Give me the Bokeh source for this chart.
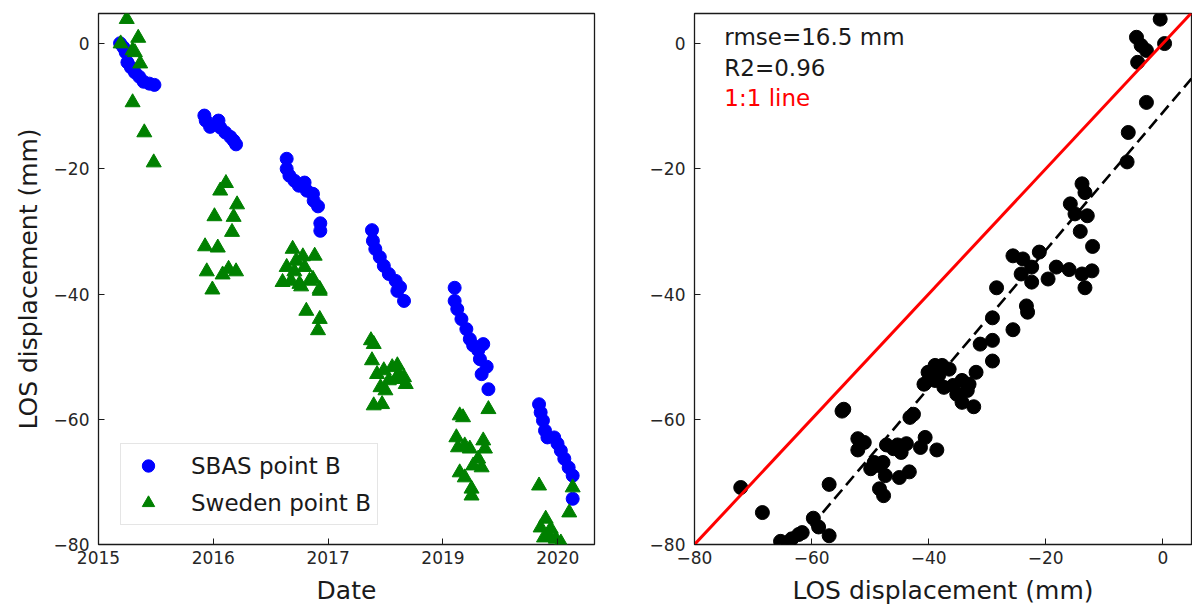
from bokeh.plotting import figure
from bokeh.layouts import row
from bokeh.models import FixedTicker, ColumnDataSource, Range1d
from bokeh.core.properties import value
from bokeh.embed import file_html
from bokeh.resources import INLINE

# ---------------- data ----------------
# Left panel: time position (years from first tick) and LOS displacement (mm)
sbas_t = [0.188, 0.217, 0.237, 0.252, 0.282, 0.317, 0.355, 0.393, 0.443, 0.487,
          0.922, 0.934, 0.972, 1.045, 1.060, 1.104, 1.148, 1.177, 1.198,
          1.639, 1.639, 1.663, 1.706, 1.745, 1.795, 1.815, 1.868, 1.874, 1.912, 1.932, 1.932,
          2.382, 2.390, 2.411, 2.450, 2.485, 2.529, 2.588, 2.603, 2.626, 2.661,
          3.102, 3.102, 3.125, 3.161, 3.204, 3.234, 3.263, 3.307, 3.351, 3.322, 3.381, 3.337, 3.396,
          3.837, 3.851, 3.871, 3.889, 3.910, 3.969, 3.998, 4.027, 4.057, 4.095, 4.130, 4.130]
sbas_y = [0.05, -0.6, -1.4, -3.0, -3.8, -4.6, -5.3, -6.1, -6.4, -6.6,
          -11.5, -12.3, -13.3, -12.3, -13.4, -14.2, -14.9, -15.5, -16.1,
          -18.4, -20.0, -21.1, -21.9, -22.7, -22.2, -23.5, -24.0, -25.1, -26.0, -28.7, -29.9,
          -29.8, -31.5, -32.8, -34.1, -35.5, -36.8, -37.9, -39.5, -38.9, -41.1,
          -39.0, -41.1, -42.4, -44.0, -45.6, -47.2, -48.2, -49.0, -48.0, -50.4, -51.6, -52.8, -55.2,
          -57.6, -58.9, -60.2, -61.8, -62.9, -62.9, -63.9, -65.0, -66.3, -67.7, -69.0, -72.7]

swe_t = [0.246, 0.193, 0.346, 0.297, 0.317, 0.363, 0.297, 0.399, 0.481,
         1.110, 1.060, 1.207, 1.177, 1.010, 1.163, 0.928, 1.039, 0.943, 1.081, 1.133, 1.198, 0.992,
         1.691, 1.780, 1.883, 1.639, 1.706, 1.795, 1.868, 1.677, 1.765, 1.927, 1.721, 1.838,
         1.810, 1.927, 1.912, 1.750, 1.927, 1.603,
         2.373, 2.397, 2.382, 2.426, 2.485, 2.558, 2.603, 2.661, 2.676, 2.529, 2.456, 2.499,
         2.397, 2.470, 2.588, 2.617,
         3.146, 3.175, 3.396, 3.117, 3.131, 3.190, 3.234, 3.351, 3.366, 3.307, 3.263, 3.337,
         3.146, 3.190, 3.249, 3.249,
         3.837, 3.895, 3.851, 3.939, 3.880, 3.983, 4.027, 4.130, 4.100, 3.924]
swe_y = [3.9, 0.0, 0.9, -1.1, -1.4, -3.2, -9.4, -14.2, -19.0,
         -22.3, -23.5, -25.7, -27.7, -27.6, -30.1, -32.4, -32.6, -36.4, -36.9, -36.0, -36.4, -39.3,
         -32.8, -34.0, -33.9, -35.7, -36.4, -35.7, -37.6, -37.9, -38.8, -39.5, -34.7, -37.9,
         -42.7, -44.0, -45.8, -38.4, -39.2, -38.1,
         -47.4, -48.0, -50.6, -52.8, -52.2, -51.7, -51.4, -53.3, -54.4, -53.8, -54.9, -55.4,
         -57.8, -57.6, -53.6, -52.8,
         -59.4, -59.7, -58.4, -62.9, -64.5, -64.2, -64.7, -63.4, -64.7, -66.3, -67.4, -67.7,
         -68.5, -69.3, -71.1, -72.2,
         -70.6, -75.9, -77.3, -77.5, -78.9, -79.1, -79.7, -70.9, -74.9, -78.6]

date_ticks = [0, 1, 2, 3, 4]
date_labels = ["2015", "2016", "2017", "2019", "2020"]
disp_ticks = [-80, -60, -40, -20, 0]
disp_labels = ["\u221280", "\u221260", "\u221240", "\u221220", "0"]

# Right panel: SBAS (x) vs Sweden (y) displacement (mm)
cmp_x = [-0.45, -4.5, -3.7, -2.8, -4.3, 0.3, -2.8, -5.9, -6.1,
         -13.8, -13.3, -15.8, -15.0, -12.9, -14.1, -12.0,
         -25.6, -23.9, -21.1, -22.4, -24.2, -22.4, -19.6, -18.2, -16.0, -13.8, -12.1, -13.3, -28.4,
         -23.3, -23.1, -29.1, -25.6, -29.1, -31.2, -29.1, -31.9,
         -38.9, -37.7, -36.5, -40.1, -38.3, -40.8, -38.9, -37.4, -35.8, -34.3, -33.1, -35.2, -34.3,
         -32.3, -33.4, -42.6, -43.2, -54.5, -54.8,
         -52.1, -51.0, -52.1, -47.2, -45.3, -43.8, -44.7, -46.0, -40.6, -41.4, -38.6,
         -49.3, -47.8, -49.9, -48.4, -47.4, -45.0, -43.3, -48.4, -47.7,
         -57.0, -72.1, -68.4, -59.7, -58.8, -57.0, -61.6, -62.2, -63.4, -65.3, -64.0]
cmp_y = [3.9, 1.0, -0.3, -1.1, -3.0, 0.0, -9.4, -14.2, -18.9,
         -22.4, -23.8, -25.6, -27.2, -27.5, -30.0, -32.4,
         -33.9, -34.4, -33.3, -35.7, -36.8, -38.1, -37.6, -35.7, -36.1, -36.8, -36.3, -39.0, -39.0,
         -41.9, -42.9, -43.8, -45.7, -47.4, -48.0, -50.7, -52.5,
         -51.4, -51.4, -52.0, -52.5, -53.0, -54.4, -53.8, -54.9, -54.6, -53.8, -54.4, -56.0, -57.3,
         -58.0, -55.4, -59.2, -59.7, -58.4, -58.7,
         -63.1, -63.7, -64.9, -64.1, -64.1, -63.9, -65.3, -64.7, -62.9, -64.5, -64.9,
         -66.9, -66.9, -67.9, -67.4, -69.0, -69.3, -68.4, -71.1, -72.2,
         -70.4, -70.9, -74.9, -75.8, -77.2, -78.6, -78.1, -78.4, -79.1, -79.5, -79.7]

fit_slope = 1.1
fit_intercept = -11.0

stat_texts = ["rmse=16.5 mm", "R2=0.96", "1:1 line"]
stat_x = [-74.9, -74.9, -74.9]
stat_y = [1.0, -3.9, -8.7]
stat_colors = ["#1a1a1a", "#1a1a1a", "#ff0000"]

y_lim = (-80, 4.8)
date_lim = (0, 4.32)
disp_x_lim = (-80, 4.9)

FONT = "DejaVu Sans"
TICK_SIZE = "17px"
LABEL_SIZE = "25px"
TEXT_SIZE = "23px"


def style(p):
    p.outline_line_color = "#1a1a1a"
    p.outline_line_width = 1.3
    p.xgrid.visible = False
    p.ygrid.visible = False
    for ax in (p.xaxis[0], p.yaxis[0]):
        ax.axis_line_color = None
        ax.major_tick_in = 6
        ax.major_tick_out = 0
        ax.minor_tick_line_color = None
        ax.major_tick_line_color = "#1a1a1a"
        ax.major_tick_line_width = 1
        ax.major_label_text_font = FONT
        ax.major_label_text_font_size = TICK_SIZE
        ax.major_label_text_color = "#262626"
        ax.axis_label_text_font = FONT
        ax.axis_label_text_font_size = LABEL_SIZE
        ax.axis_label_text_font_style = "normal"
        ax.axis_label_text_color = "#1a1a1a"
    p.xaxis[0].major_label_standoff = 6
    p.yaxis[0].major_label_standoff = 9
    p.yaxis[0].ticker = FixedTicker(ticks=disp_ticks)
    p.yaxis[0].major_label_overrides = {t: l for t, l in zip(disp_ticks, disp_labels)}


# ---------------- left panel ----------------
p1 = figure(width=640, height=611, output_backend="svg", toolbar_location=None,
            x_range=Range1d(*date_lim), y_range=Range1d(*y_lim),
            min_border_left=98, min_border_right=46, min_border_top=13, min_border_bottom=67)
style(p1)
p1.xaxis[0].ticker = FixedTicker(ticks=date_ticks)
p1.xaxis[0].major_label_overrides = {t: l for t, l in zip(date_ticks, date_labels)}
p1.xaxis[0].axis_label = "Date"
p1.xaxis[0].axis_label_standoff = 9
p1.yaxis[0].axis_label = "LOS displacement (mm)"
p1.yaxis[0].axis_label_standoff = 8

p1.scatter(sbas_t, sbas_y, marker="circle", size=13, fill_color="#0000ff",
           line_color="#0000ff", legend_label="SBAS point B")
p1.scatter(swe_t, swe_y, marker="triangle", size=15, fill_color="#008000",
           line_color="#008000", legend_label="Sweden point B")

lg = p1.legend[0]
lg.location = (22, 19)
lg.margin = 0
lg.padding = 6
lg.spacing = 6
lg.label_height = 31
lg.glyph_height = 31
lg.glyph_width = 42
lg.label_standoff = 22
lg.label_text_font = FONT
lg.label_text_font_size = TEXT_SIZE
lg.label_text_color = "#1a1a1a"
lg.border_line_color = "#cccccc"
lg.border_line_width = 1
lg.background_fill_color = "white"
lg.background_fill_alpha = 0.8

# ---------------- right panel ----------------
p2 = figure(width=552, height=611, output_backend="svg", toolbar_location=None,
            x_range=Range1d(*disp_x_lim), y_range=Range1d(*y_lim),
            min_border_left=54, min_border_right=1, min_border_top=13, min_border_bottom=67)
style(p2)
p2.xaxis[0].ticker = FixedTicker(ticks=disp_ticks)
p2.xaxis[0].major_label_overrides = {t: l for t, l in zip(disp_ticks, disp_labels)}
p2.xaxis[0].axis_label = "LOS displacement (mm)"
p2.xaxis[0].axis_label_standoff = 9

p2.scatter(cmp_x, cmp_y, marker="circle", size=14, fill_color="black", line_color="black")

one_x = [disp_x_lim[0], disp_x_lim[1]]
p2.line(one_x, one_x, line_color="#ff0000", line_width=3)
fit_x = [disp_x_lim[0], disp_x_lim[1]]
fit_y = [fit_slope * v + fit_intercept for v in fit_x]
p2.line(fit_x, fit_y, line_color="black", line_width=2.6, line_dash="12 6")

src = ColumnDataSource(dict(x=stat_x, y=stat_y, text=stat_texts, color=stat_colors))
p2.text(x="x", y="y", text="text", text_color="color", source=src,
        text_font=value(FONT), text_font_size=value(TEXT_SIZE),
        text_baseline="middle", text_align="left")

layout = row(p1, p2, spacing=0)
open("out.html", "w").write(file_html(layout, INLINE))
